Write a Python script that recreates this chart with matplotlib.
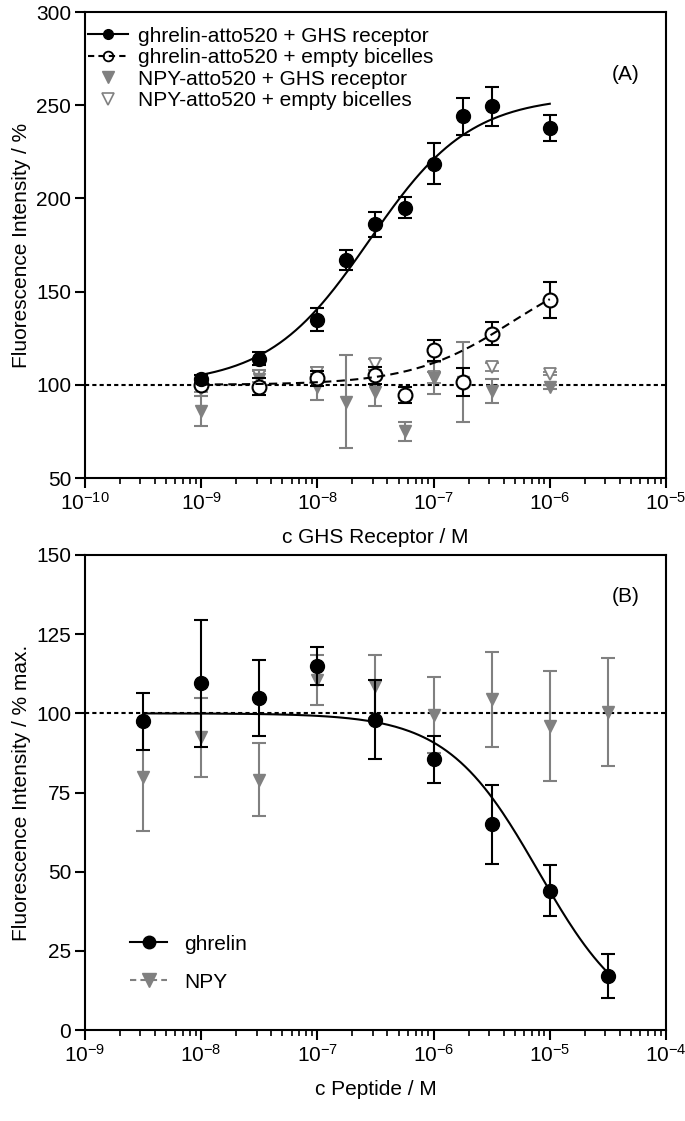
import numpy as np
import matplotlib
matplotlib.use('Agg')
from matplotlib import pyplot as plt
from matplotlib.lines import Line2D
from matplotlib.ticker import LogLocator, NullFormatter, FixedLocator

plt.rcParams['font.family'] = ['Liberation Sans', 'DejaVu Sans']
plt.rcParams['mathtext.fontset'] = 'custom'
plt.rcParams['mathtext.rm'] = 'Liberation Sans'
plt.rcParams['mathtext.it'] = 'Liberation Sans:italic'
plt.rcParams['mathtext.bf'] = 'Liberation Sans:bold'

GRAY = '#808080'
FS = 15

# ---- panel A: receptor titration ----
rec_conc = [1e-9, 3.16e-9, 1e-8, 1.78e-8, 3.16e-8, 5.62e-8, 1e-7, 1.78e-7, 3.16e-7, 1e-6]
ghr_ghs = [103, 114, 135, 167, 186, 195, 218.5, 244, 249.5, 238]
ghr_ghs_err = [2, 3.5, 6, 5.5, 6.5, 5.5, 11, 10, 10.5, 7]

rec_conc_emp = [1e-9, 3.16e-9, 1e-8, 3.16e-8, 5.62e-8, 1e-7, 1.78e-7, 3.16e-7, 1e-6]
ghr_emp = [100, 99, 103.5, 105, 94.5, 118.5, 101.5, 127.5, 145.5]
ghr_emp_err = [1, 4.5, 4, 4.5, 4.5, 5.5, 7.5, 6, 9.5]

npy_ghs = [86, 103, 99, 91, 96, 75, 103.5, 101.5, 96.5, 99]
npy_ghs_err = [8, 5, 7, 25, 7.5, 5, 8.5, 21.5, 6.5, 1]

rec_conc_npy_emp = [1e-9, 3.16e-9, 1e-8, 3.16e-8, 1e-7, 3.16e-7, 1e-6]
npy_emp = [97.5, 104.5, 106.5, 111, 104, 109.5, 106]
npy_emp_err = [1.5, 3, 3, 3, 3, 2, 1]

# fit parameters (bottom, top, EC50, hill)
fit_ghs = (100, 255, 2.8e-8, 1.0)
fit_emp = (100, 168, 4.8e-7, 1.0)

# ---- panel B: peptide competition ----
pep_conc = [3.16e-9, 1e-8, 3.16e-8, 1e-7, 3.16e-7, 1e-6, 3.16e-6, 1e-5, 3.16e-5]
ghrelin = [97.5, 109.5, 105, 115, 98, 85.5, 65, 44, 17]
ghrelin_err = [9, 20, 12, 6, 12.5, 7.5, 12.5, 8, 7]
npy = [80, 92.5, 79, 110.5, 108.5, 99.5, 104.5, 96, 100.5]
npy_err = [17, 12.5, 11.5, 8, 10, 12, 15, 17.5, 17]

fit_ghrelin = (100, 0, 8e-6, 1.1)


def hill(x, p):
    bottom, top, ec50, h = p
    return bottom + (top - bottom) / (1 + (ec50 / x) ** h)


def hill_down(x, p):
    top, bottom, ic50, h = p
    return bottom + (top - bottom) / (1 + (x / ic50) ** h)


def style_axis(ax, xmin, xmax):
    ax.set_xscale('log')
    ax.set_xlim(xmin, xmax)
    decades = np.arange(int(np.log10(xmin)), int(np.log10(xmax)) + 1)
    ax.xaxis.set_major_locator(FixedLocator(10.0 ** decades))
    ax.set_xticklabels([r'$10^{%d}$' % d for d in decades])
    ax.xaxis.set_minor_locator(LogLocator(base=10, subs=np.arange(2, 10), numticks=20))
    ax.xaxis.set_minor_formatter(NullFormatter())
    for s in ax.spines.values():
        s.set_linewidth(1.5)
    ax.tick_params(axis='both', which='major', direction='out', length=7, width=1.5,
                   labelsize=FS, pad=3)
    ax.tick_params(axis='x', which='minor', direction='out', length=4, width=1.2)


ebkw = dict(capsize=5, elinewidth=1.5, capthick=1.5, linestyle='none')

fig = plt.figure(figsize=(6.85, 11.21), dpi=100)
axA = fig.add_axes([85 / 685, 1 - 478 / 1121, 581 / 685, 466 / 1121])
axB = fig.add_axes([85 / 685, 1 - 1030 / 1121, 581 / 685, 475 / 1121])

# panel A
axA.axhline(100, color='black', lw=1.5, ls=(0, (2, 1.5)), zorder=1)
axA.errorbar(rec_conc_npy_emp, npy_emp, yerr=npy_emp_err, marker='v', ms=9,
             mfc='white', mec=GRAY, mew=1.3, ecolor=GRAY, zorder=2, **ebkw)
axA.errorbar(rec_conc, npy_ghs, yerr=npy_ghs_err, marker='v', ms=9,
             mfc=GRAY, mec=GRAY, ecolor=GRAY, zorder=3, **ebkw)
axA.errorbar(rec_conc_emp, ghr_emp, yerr=ghr_emp_err, marker='o', ms=10,
             mfc='white', mec='black', mew=1.5, ecolor='black', zorder=4, **ebkw)
axA.errorbar(rec_conc, ghr_ghs, yerr=ghr_ghs_err, marker='o', ms=10,
             mfc='black', mec='black', ecolor='black', zorder=5, **ebkw)

xs = np.logspace(-9, -6, 200)
axA.plot(xs, hill(xs, fit_ghs), color='black', lw=1.5, zorder=6)
axA.plot(xs, hill(xs, fit_emp), color='black', lw=1.5, ls=(0, (4, 2.5)), zorder=6)

style_axis(axA, 1e-10, 1e-5)
axA.set_ylim(50, 300)
axA.set_yticks(np.arange(50, 301, 50))
axA.set_ylabel('Fluorescence Intensity / %', fontsize=FS)
axA.set_xlabel('c GHS Receptor / M', fontsize=FS, labelpad=10)
axA.yaxis.set_label_coords(-0.093, 0.5)
axA.text(0.93, 0.865, '(A)', transform=axA.transAxes, fontsize=FS,
         ha='center', va='center')

hA = [Line2D([], [], color='black', lw=1.5, marker='o', ms=7),
      Line2D([], [], color='black', lw=1.5, ls=(0, (3, 2)), marker='o', ms=7,
             mfc='none', mew=1.3),
      Line2D([], [], ls='none', marker='v', ms=8, color=GRAY),
      Line2D([], [], ls='none', marker='v', ms=8, mfc='white', mec=GRAY, mew=1.2)]
axA.legend(hA, ['ghrelin-atto520 + GHS receptor', 'ghrelin-atto520 + empty bicelles',
                'NPY-atto520 + GHS receptor', 'NPY-atto520 + empty bicelles'],
           loc='upper left', bbox_to_anchor=(-0.02, 1.0), frameon=False,
           fontsize=FS, handlelength=1.9, handletextpad=0.5, labelspacing=0.12,
           borderaxespad=0.3)

# panel B
axB.axhline(100, color='black', lw=1.5, ls=(0, (2, 1.5)), zorder=1)
axB.errorbar(pep_conc, npy, yerr=npy_err, marker='v', ms=9, mfc=GRAY, mec=GRAY,
             ecolor=GRAY, zorder=2, **ebkw)
axB.errorbar(pep_conc, ghrelin, yerr=ghrelin_err, marker='o', ms=10, mfc='black',
             mec='black', ecolor='black', zorder=3, **ebkw)
xb = np.logspace(np.log10(3.16e-9), np.log10(3.16e-5), 200)
axB.plot(xb, hill_down(xb, fit_ghrelin), color='black', lw=1.5, zorder=4)

style_axis(axB, 1e-9, 1e-4)
axB.set_ylim(0, 150)
axB.set_yticks(np.arange(0, 151, 25))
axB.set_ylabel('Fluorescence Intensity / % max.', fontsize=FS)
axB.set_xlabel('c Peptide / M', fontsize=FS, labelpad=10)
axB.yaxis.set_label_coords(-0.093, 0.5)
axB.text(0.93, 0.912, '(B)', transform=axB.transAxes, fontsize=FS,
         ha='center', va='center')

hB = [Line2D([], [], color='black', lw=1.5, marker='o', ms=9),
      Line2D([], [], color=GRAY, lw=1.5, ls=(0, (3, 2)), marker='v', ms=10)]
axB.legend(hB, ['ghrelin', 'NPY'], loc='upper left', bbox_to_anchor=(0.045, 0.24),
           frameon=False, fontsize=FS, handlelength=1.8, handletextpad=0.8,
           labelspacing=0.9)

fig.savefig('out.png', dpi=100)
